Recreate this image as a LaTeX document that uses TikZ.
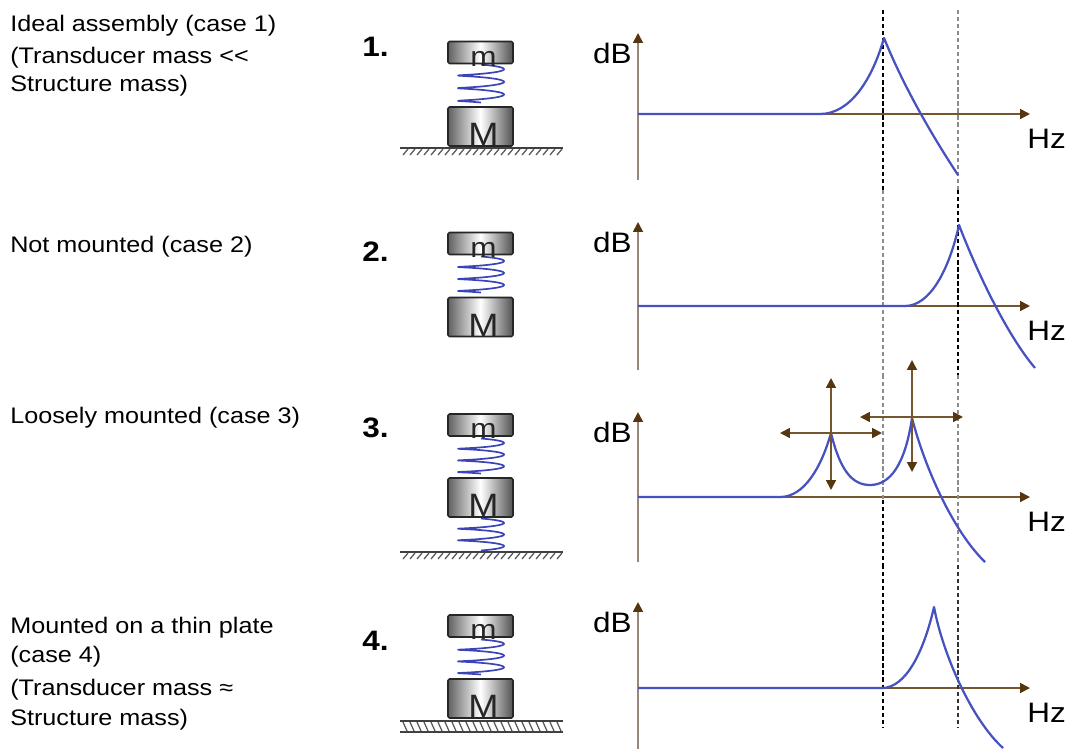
\documentclass[tikz,border=0pt]{standalone}
\usepackage{fontspec}
\setmainfont[FakeStretch=1.12]{Liberation Sans}
\usetikzlibrary{arrows.meta}

\definecolor{curveblue}{RGB}{70,82,192}
\definecolor{springblue}{RGB}{58,68,182}
\definecolor{axisgray}{RGB}{152,134,118}
\definecolor{axisbrown}{RGB}{118,86,46}
\definecolor{tipbrown}{RGB}{86,54,16}

\tikzset{
  mass/.style={draw=black!85, line width=1.1pt, rounded corners=1pt,
    left color=black!62, right color=black!68, middle color=white,
    minimum width=16.25mm, inner sep=0pt},
  small mass/.style={mass, minimum height=5.5mm},
  big mass/.style={mass, minimum height=9.75mm},
  mass letter/.style={anchor=base, inner sep=0pt, text=black!85},
  spring/.style={springblue, line width=1.2pt},
  ground/.style={black!75, line width=1.1pt},
  hatch/.style={black!65, line width=0.9pt},
  case text/.style={anchor=base west, inner sep=0pt, font=\fontsize{16}{19}\selectfont},
  case number/.style={anchor=base west, inner sep=0pt, font=\fontsize{20}{24}\selectfont\bfseries},
  unit/.style={inner sep=0pt, font=\fontsize{20}{24}\selectfont},
  yaxis/.style={axisgray, line width=1.3pt, ->},
  xaxis/.style={axisbrown, line width=1.3pt, ->},
  response/.style={curveblue, line width=1.6pt},
  resonance/.style={line width=0.9pt, dash pattern=on 3pt off 2pt},
  shift arrow/.style={axisbrown, line width=1.3pt, <->}
}

\begin{document}
\begin{tikzpicture}[x=0.25mm, y=-0.25mm, >={Triangle[length=7pt,width=7pt,color=tipbrown]},
  line join=round]
\useasboundingbox (0,0) rectangle (1070,749);

% ----------------------------
% PARAMETERS
% ----------------------------
\def\xa{638}   % dB axis
\def\xe{1030}  % end of Hz axis
\def\fa{883}   % first resonance
\def\fb{958}   % second resonance

% ----------------------------
% CASE LABELS
% ----------------------------
\node[case text] (t1a) at (10,31) {Ideal assembly (case 1)};
\node[case text] (t1b) at (10,63) {(Transducer mass <{}<};
\node[case text] (t1c) at (10,91) {Structure mass)};
\node[case text] (t2a) at (10,252) {Not mounted (case 2)};
\node[case text] (t3a) at (10,423) {Loosely mounted (case 3)};
\node[case text] (t4a) at (10,633) {Mounted on a thin plate};
\node[case text] (t4b) at (10,662) {(case 4)};
\node[case text] (t4c) at (10,695) {(Transducer mass ≈};
\node[case text] (t4d) at (10,725) {Structure mass)};

\node[case number] (n1) at (362,56) {1.};
\node[case number] (n2) at (362,261) {2.};
\node[case number] (n3) at (362,437) {3.};
\node[case number] (n4) at (362,650) {4.};

% ----------------------------
% MASS-SPRING MODELS
% ----------------------------
% springs: flattened helix, top y / bottom y / turns
\foreach \yt/\yb/\n in {63/107/3, 255/297/3, 437/478/3, 517/552/2.5, 638/679/3}
  \draw[spring] plot[domain=0:\n*360, samples=140]
    ({481+23*sin(\x)}, {\yt+3+\x/(\n*360)*(\yb-\yt-6)-1.5*cos(\x)});

\foreach \i/\ym/\yM in {1/52.5/126.5, 2/243.5/317, 3/425/497.5, 4/626/698.5} {
  \node[small mass] (m\i) at (480.5,\ym) {};
  \node[big mass] (M\i) at (480.5,\yM) {};
  \node[mass letter, font=\fontsize{20}{24}\selectfont] at ([shift={(3,2)}]m\i.south) {m};
  \node[mass letter, font=\fontsize{23}{26}\selectfont] at ([shift={(3,-1)}]M\i.south) {M};
}

% grounds (case 1 and 3)
\foreach \yg in {148,552} {
  \draw[ground] (400,\yg) -- (563,\yg);
  \foreach \x in {405,412,...,560}
    \draw[hatch] (\x+3,\yg+1) -- (\x-2,\yg+7);
}

% thin plate (case 4)
\draw[ground] (400,721) -- (563,721);
\draw[ground] (400,732) -- (563,732);
\foreach \x in {403,410,...,558}
  \draw[hatch] (\x,722) -- (\x+4,731);

% ----------------------------
% AXES
% ----------------------------
\foreach \i/\yo/\yt/\yb in {1/114/33/180, 2/306/222/370, 3/497/412/562, 4/688/602/749} {
  \coordinate (o\i) at (\xa,\yo);
  \coordinate (top\i) at (\xa,\yt);
  \coordinate (bot\i) at (\xa,\yb);
  \coordinate (end\i) at (\xe,\yo);
  \draw[yaxis] (bot\i) -- (top\i);
  \draw[xaxis] (o\i) -- (end\i);
  \node[unit, anchor=east] (db\i) at (\xa-6,\yt+20) {dB};
  \node[unit, anchor=west] (hz\i) at (\xe-3,\yo+25) {Hz};
}

% ----------------------------
% RESONANCE LINES
% ----------------------------
\foreach \xd/\ya/\yb/\c in {\fa/10/190/black, \fb/10/190/black!45,
    \fa/190/375/black!45, \fb/190/375/black,
    \fa/375/500/black!45, \fa/500/565/black, \fb/375/565/black!45,
    \fa/565/728/black, \fb/565/728/black!80}
  \draw[resonance, draw=\c] (\xd,\ya) -- (\xd,\yb);

% ----------------------------
% RESPONSE CURVES
% ----------------------------
% case 1
\coordinate (p1) at (884,38);
\draw[response] (o1) -- (820,114) .. controls (850,114) and (872,80) .. (p1)
  .. controls (905,90) and (935,140) .. (958,175);

% case 2
\coordinate (p2) at (959,225);
\draw[response] (o2) -- (905,306) .. controls (930,306) and (949,270) .. (p2)
  .. controls (977,272) and (1007,335) .. (1035,368);

% case 3
\coordinate (p31) at (831,433);
\coordinate (p32) at (912,418);
\draw[response] (o3) -- (780,497) .. controls (804,497) and (821,468) .. (p31)
  .. controls (840,470) and (852,485) .. (870,485)
  .. controls (890,485) and (905,465) .. (p32)
  .. controls (924,465) and (952,530) .. (985,562);

% case 4
\coordinate (p4) at (934,607);
\draw[response] (o4) -- (882,688) .. controls (906,688) and (924,651) .. (p4)
  .. controls (943,655) and (972,720) .. (1003,748);

% shifting peaks (case 3)
\draw[shift arrow] ([shift={(-51,0)}]p31) -- ([shift={(51,0)}]p31);
\draw[shift arrow] ([shift={(0,-55)}]p31) -- ([shift={(0,57)}]p31);
\draw[shift arrow] ([shift={(-52,-1)}]p32) -- ([shift={(51,-1)}]p32);
\draw[shift arrow] ([shift={(0,-58)}]p32) -- ([shift={(0,54)}]p32);

\end{tikzpicture}
\end{document}
